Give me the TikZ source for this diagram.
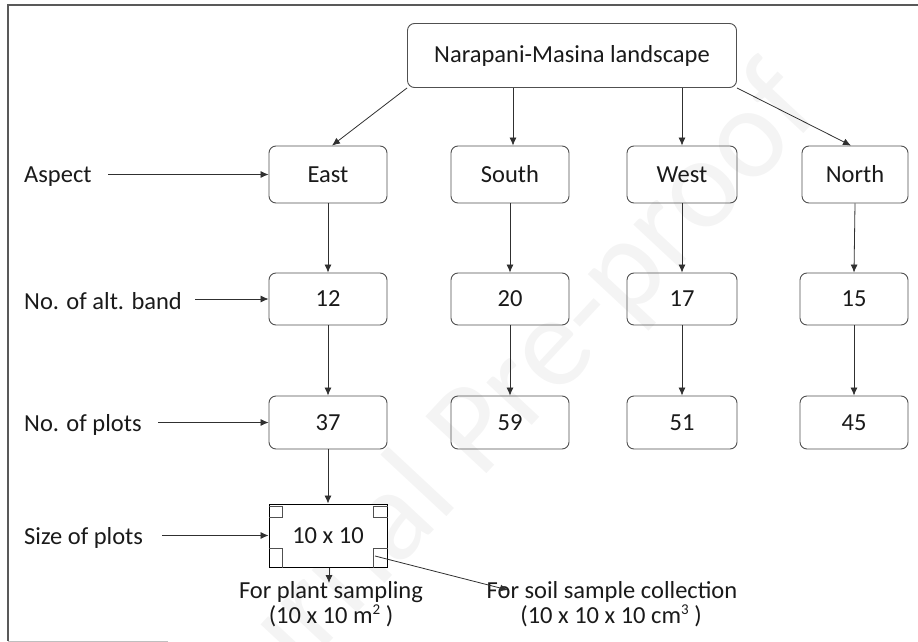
\documentclass[tikz,border=0pt]{standalone}
\usepackage{fontspec}
\setmainfont{Carlito}
\usetikzlibrary{arrows.meta}
\definecolor{boxgray}{HTML}{505050}
\definecolor{linegray}{HTML}{303030}
\definecolor{txt}{HTML}{1A1A1A}
\newcommand\fsz{\fontsize{24.5}{25.5}\selectfont}
\newcommand\supr[1]{\raisebox{0.75ex}{\fontsize{15}{15}\selectfont #1}}
\tikzset{
  box/.style={draw=boxgray, rounded corners=7pt, line width=0.9pt, minimum width=118pt, minimum height=57pt, inner sep=0pt, font=\fsz, text=txt},
  arr/.style={draw=linegray, line width=0.8pt, -{Latex[length=8pt,width=7pt]}},
  lbl/.style={anchor=west, inner sep=0pt, font=\fsz, text=txt},
  note/.style={anchor=base, inner sep=0pt, font=\fsz, text=txt},
  corner/.style={draw=boxgray, line width=0.8pt}
}
\begin{document}
\begin{tikzpicture}[x=1pt,y=-1pt]
\useasboundingbox (0,0) rectangle (918,642);
% watermark
\node[rotate=47, text=gray!9, font=\fontsize{130}{130}\selectfont, inner sep=0pt] (wm) at (486,424) {Journal Pre-proof};
% frame
\draw[draw=gray!70!black, line width=1.2pt] (918,5) -- (8,5) -- (8,641);
\draw[draw=gray!50, line width=1pt] (8,641) -- (168,641);
% top
\node[box, minimum width=329pt, minimum height=64pt] (top) at (572,55.5) {Narapani-Masina landscape};
% row 1
\node[box] (E) at (328,174.5) {East};
\node[box] (S) at (510,174.5) {South};
\node[box, minimum width=110pt] (W) at (682,174.5) {West};
\node[box, minimum width=106pt] (N) at (855,174.5) {North};
% row 2
\node[box, minimum height=52pt] (E2) at (328,299) {12};
\node[box, minimum height=52pt] (S2) at (510,299) {20};
\node[box, minimum height=52pt, minimum width=110pt] (W2) at (682,299) {17};
\node[box, minimum height=52pt, minimum width=108pt] (N2) at (854,299) {15};
% row 3
\node[box, minimum height=53pt] (E3) at (328,422.5) {37};
\node[box, minimum height=53pt] (S3) at (510,422.5) {59};
\node[box, minimum height=53pt, minimum width=110pt] (W3) at (682,422.5) {51};
\node[box, minimum height=53pt, minimum width=108pt] (N3) at (854,422.5) {45};
% plot box
\node[draw=black, fill=white, line width=1pt, minimum width=118pt, minimum height=63pt, inner sep=0pt, font=\fsz, text=txt] (P) at (328,535.5) {10 x 10};
\draw[corner] (P.north west) ++(0,3) -- ++(14,0) -- ++(0,11) -- ++(-14,0);
\draw[corner] (P.north east) ++(0,3) -- ++(-14,0) -- ++(0,11) -- ++(14,0);
\draw[corner] (P.south west) ++(0,-19) -- ++(14,0) -- ++(0,19);
\draw[corner] (P.south east) ++(0,-19) -- ++(-14,0) -- ++(0,19);
% left labels
\node[lbl] (lA) at (24,177) {Aspect};
\node[lbl] (lB) at (24,301) {No. of alt. band};
\node[lbl] (lC) at (24,425) {No. of plots};
\node[lbl] (lD) at (24,538) {Size of plots};
\coordinate (aA) at (108,174.5);
\coordinate (aB) at (195,299);
\coordinate (aC) at (158,422.5);
\coordinate (aD) at (162,535.5);
\draw[arr] (aA) -- (E.west);
\draw[arr] (aB) -- (E2.west);
\draw[arr] (aC) -- (E3.west);
\draw[arr] (aD) -- (P.west);
% top edges
\draw[arr] (top.south west) -- ([xshift=4pt]E.north);
\draw[arr] ([xshift=3pt]top.south -| S.north) -- ([xshift=3pt]S.north);
\draw[arr] (top.south -| W.north) -- (W.north);
\draw[arr] (top.south east) -- ([xshift=-4pt]N.north);
% vertical edges
\draw[arr] (E.south) -- (E2.north);
\draw[arr] (S.south) -- (S2.north);
\draw[arr] (W.south) -- (W2.north);
\draw[arr] (N.south) -- (N2.north);
\draw[arr] (E2.south) -- (E3.north);
\draw[arr] (S2.south) -- (S3.north);
\draw[arr] (W2.south) -- (W3.north);
\draw[arr] (N2.south) -- (N3.north);
\draw[arr] (E3.south) -- (P.north);
% bottom notes
\node[note] (plantA) at (331,598) {For plant sampling};
\node[note] (plantB) at (331,623) {(10 x 10 m\supr{2} )};
\node[note] (soilA) at (612,598) {For soil sample collection};
\node[note] (soilB) at (611,623) {(10 x 10 x 10 cm\supr{3} )};
\coordinate (pe) at (329,583);
\coordinate (ss) at (375,556);
\coordinate (se) at (508,590);
\draw[arr] (P.south -| pe) -- (pe);
\draw[arr] (ss) -- (se);
\end{tikzpicture}
\end{document}
